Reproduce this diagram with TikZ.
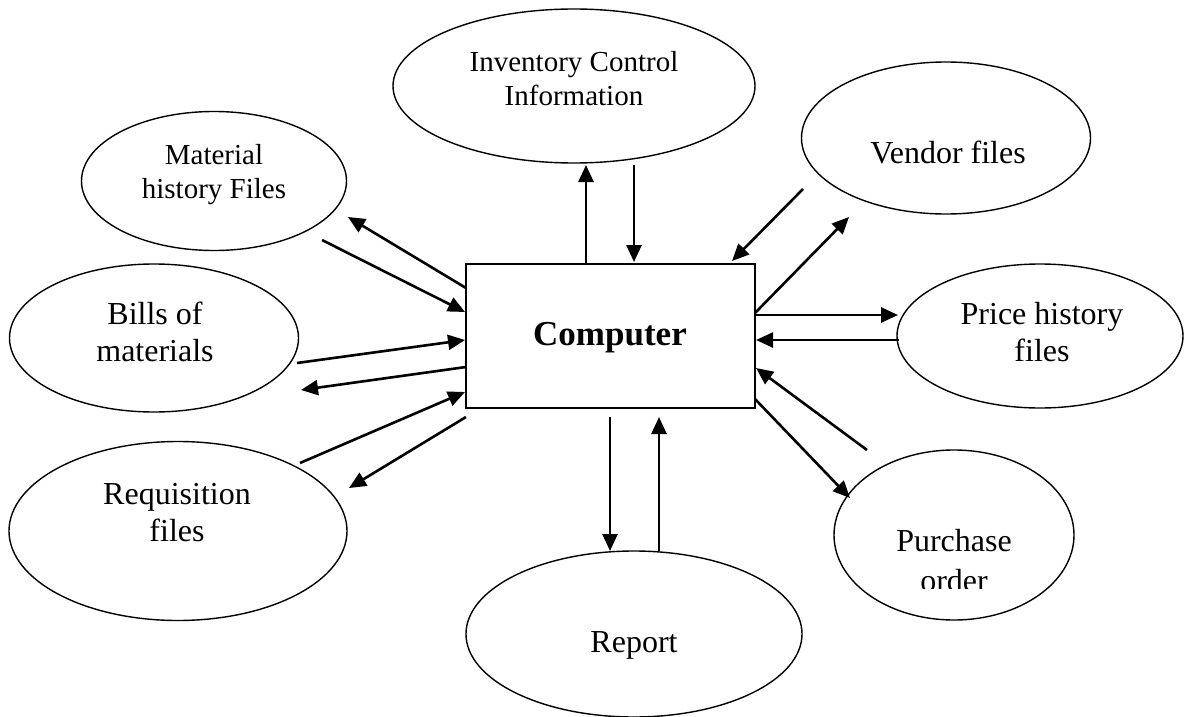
\documentclass[tikz,border=0pt]{standalone}
\usepackage{fontspec}
\setmainfont{Liberation Serif}
\usetikzlibrary{arrows.meta,shapes.geometric}
\begin{document}
\begin{tikzpicture}[x=1pt,y=-1pt,
  bubble/.style={draw,ellipse,line width=1.4pt,inner sep=0pt},
  txt/.style={align=center,inner sep=0pt,font=\fontsize{32}{37}\selectfont},
  smalltxt/.style={align=center,inner sep=0pt,font=\fontsize{29}{34}\selectfont},
  flow/.style={line width=2.6pt,-{Triangle[length=17pt,width=15pt]}}]
\useasboundingbox (0,0) rectangle (1184,717);

% central processor box
\node[draw,line width=2.5pt,minimum width=289pt,minimum height=144pt,inner sep=0pt] (comp) at (610.5,336) {};
\node[inner sep=0pt,font=\fontsize{35}{40}\selectfont\bfseries] (compt) at (610,338) {Computer};

% surrounding data stores
\node[bubble,minimum width=362pt,minimum height=154pt] (inv) at (574,86) {};
\node[smalltxt] (invt) at (574,79) {Inventory Control\\Information};

\node[bubble,minimum width=289pt,minimum height=152pt] (vend) at (946,138) {};
\node[txt] (vendt) at (948,152) {Vendor files};

\node[bubble,minimum width=265pt,minimum height=139pt] (mat) at (214,181) {};
\node[smalltxt] (matt) at (214,175) {Material\\history Files};

\node[bubble,minimum width=289pt,minimum height=148pt] (bill) at (154,338) {};
\node[txt] (billt) at (155,332) {Bills of\\materials};

\node[bubble,minimum width=338pt,minimum height=179pt] (req) at (178,531) {};
\node[txt] (reqt) at (177,513) {Requisition\\files};

\node[bubble,minimum width=286pt,minimum height=144pt] (price) at (1040,336) {};
\node[txt] (pricet) at (1042,332) {Price history\\files};

\node[bubble,minimum width=240pt,minimum height=170pt] (purch) at (954,535) {};
\begin{scope}
  % the second line is cut off by its text box
  \clip (870,480) rectangle (1040,588.5);
  \node[txt,font=\fontsize{32}{40}\selectfont] (purcht) at (954,561) {Purchase\\order};
\end{scope}

\node[bubble,minimum width=336pt,minimum height=166pt] (rep) at (634,634) {};
\node[txt] (rept) at (634,645) {Report};

% connector end points
\coordinate (invUpS) at (586,264);   \coordinate (invUpE) at (586,165);
\coordinate (invDnS) at (634,165);   \coordinate (invDnE) at (634,262);
\coordinate (repDnS) at (610,417);   \coordinate (repDnE) at (610,551);
\coordinate (repUpS) at (659,551);   \coordinate (repUpE) at (659,417);
\coordinate (matOutS) at (466,288);  \coordinate (matOutE) at (348,217);
\coordinate (matInS) at (322,240);   \coordinate (matInE) at (465,312);
\coordinate (billInS) at (297,363);  \coordinate (billInE) at (465,340);
\coordinate (billOutS) at (466,367); \coordinate (billOutE) at (301,390);
\coordinate (reqInS) at (300,463);   \coordinate (reqInE) at (465,392);
\coordinate (reqOutS) at (466,417);  \coordinate (reqOutE) at (349,488);
\coordinate (vendInS) at (803,189);  \coordinate (vendInE) at (732,261);
\coordinate (vendOutS) at (755,313); \coordinate (vendOutE) at (849,217);
\coordinate (priceOutS) at (755,315);\coordinate (priceOutE) at (898,315);
\coordinate (priceInS) at (899,340); \coordinate (priceInE) at (756,340);
\coordinate (purchInS) at (867,450); \coordinate (purchInE) at (756,368);
\coordinate (purchOutS) at (755,399);\coordinate (purchOutE) at (850,498);

% data flows
\draw[flow] (invUpS) -- (invUpE);
\draw[flow] (invDnS) -- (invDnE);
\draw[flow] (repDnS) -- (repDnE);
\draw[flow] (repUpS) -- (repUpE);
\draw[flow] (matOutS) -- (matOutE);
\draw[flow] (matInS) -- (matInE);
\draw[flow] (billInS) -- (billInE);
\draw[flow] (billOutS) -- (billOutE);
\draw[flow] (reqInS) -- (reqInE);
\draw[flow] (reqOutS) -- (reqOutE);
\draw[flow] (vendInS) -- (vendInE);
\draw[flow] (vendOutS) -- (vendOutE);
\draw[flow] (priceOutS) -- (priceOutE);
\draw[flow] (priceInS) -- (priceInE);
\draw[flow] (purchInS) -- (purchInE);
\draw[flow] (purchOutS) -- (purchOutE);
\end{tikzpicture}
\end{document}
